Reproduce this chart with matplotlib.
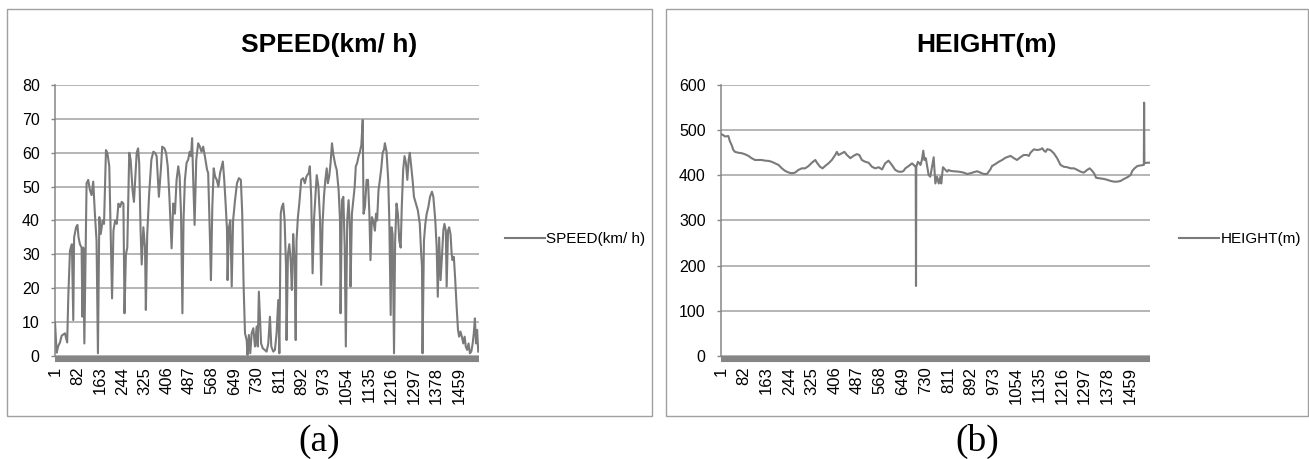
import matplotlib
matplotlib.use('Agg')
import matplotlib.pyplot as plt
from matplotlib.patches import Rectangle

plt.rcParams['font.family'] = 'Liberation Sans'

# sample numbers on the category axis
N_POINTS = 1530
tick_pos = list(range(1, 1460, 81))

# speed record (sample number, km/h)
speed_idx = [
    1, 7, 13, 19, 25, 37, 45, 49, 55, 58,
    62, 67, 70, 77, 82, 86, 91, 97, 100, 103,
    107, 110, 115, 121, 127, 133, 139, 145, 151, 156,
    161, 166, 173, 178, 185, 190, 197, 202, 207, 212,
    218, 224, 230, 236, 242, 248, 252, 257, 262, 269,
    274, 281, 286, 291, 296, 301, 305, 310, 314, 320,
    326, 329, 334, 341, 349, 356,
    362, 368, 376, 384, 388, 396, 402, 408, 414, 422,
    428, 434, 440, 446, 451, 456, 461, 465, 470, 476,
    482, 487, 492, 496, 500, 505, 511, 518, 524, 530,
    536, 542, 550, 554, 560, 564, 569, 574, 579, 585,
    591, 597, 603, 607, 612, 617, 622, 624, 629, 634,
    639, 644, 651, 658, 665, 672, 677, 682, 687, 693,
    696, 701, 706, 711, 717, 723, 729, 733, 737,
    745, 751, 758, 765, 771, 777, 782, 789, 795, 801,
    807, 811, 816, 820, 825, 830, 835, 837, 842, 847,
    852, 856, 861, 866, 870, 873, 878, 883, 890, 897,
    903, 909, 917, 921, 926, 931, 936, 941, 946, 952,
    958, 962, 967, 972, 977, 982, 986, 991, 996, 1001,
    1006, 1013, 1018, 1025, 1030, 1032, 1037, 1042, 1047, 1051,
    1056, 1061, 1066, 1068, 1073, 1078, 1083, 1087, 1092, 1097,
    1102, 1107, 1112, 1115, 1120, 1126, 1131, 1136, 1140, 1145,
    1150, 1156,
    1160, 1164, 1169, 1174, 1179, 1184, 1189, 1192, 1198, 1204,
    1208, 1213, 1216, 1220, 1225, 1229, 1234, 1239, 1244, 1249,
    1253, 1258, 1263, 1268, 1273, 1278, 1282, 1287, 1292, 1297,
    1304, 1311, 1318, 1323, 1326, 1328, 1333, 1338, 1343, 1349,
    1355, 1362, 1367, 1374, 1379, 1383, 1388, 1393, 1398, 1403,
    1407, 1412, 1415, 1420, 1424, 1429, 1433, 1436, 1441, 1446,
    1451, 1456, 1460, 1465, 1470, 1475, 1480, 1484, 1489, 1494,
    1499, 1504, 1509, 1513, 1517, 1521, 1525, 1529,
]
speed_val = [
    10, 1, 3, 4, 6, 6.7, 4, 17.5, 31, 32,
    33, 10.6, 35, 38, 38.7, 35, 33, 32, 11.6, 32,
    3.7, 22, 51, 52, 49, 47.5, 51.5, 42, 34, 0.8,
    41, 36, 40, 39, 60.8, 60, 56, 37, 17, 37,
    40, 39, 45, 44, 45.5, 45, 12.6, 30, 32, 60,
    58, 49, 45.5, 53, 60, 61.3, 57, 37, 27, 38,
    32, 13.6, 36, 48, 58, 60.3,
    60, 59, 47, 56, 61.8, 61.3, 60, 56, 47, 31.8,
    45, 42, 52, 56, 53, 42, 12.6, 40, 52, 57,
    58, 60.3, 59, 64.3, 52, 38.7, 58, 62.8, 61.8, 60.3,
    61.8, 59, 55, 54, 36, 22.4, 44, 55.4, 53, 52,
    50, 54, 56, 57.4, 52, 45, 37.2, 22.4, 38, 40,
    20.5, 40, 46, 51, 52.5, 52, 42, 20.5, 6.7, 4.7,
    0.3, 6.2, 0.8, 6.7, 8.2, 2.8, 8.7, 2.8, 19,
    3.7, 2.3, 1.8, 1.3, 3.7, 11.6, 2.8, 1.3, 1.8, 6.7,
    16.5, 0.8, 42, 44, 45, 40, 26.4, 4.7, 30, 33,
    28, 19.5, 36, 28, 4.7, 34, 41, 45, 52, 52.5,
    51, 53, 54, 56, 47, 24.4, 40, 47, 53.4, 50,
    40, 21, 39, 47, 52, 55.4, 51, 53, 57, 62.8,
    59.4, 56.4, 55, 49, 40, 12.6, 46, 47, 32, 2.8,
    40, 46, 37, 20.5, 42, 46, 50, 56, 57, 59,
    60.3, 62.3, 69.7, 42, 44, 52, 52, 42, 28.3, 41,
    40, 37,
    42, 40, 49, 52, 55.4, 60, 61, 62.8, 60.3, 52,
    40, 12.1, 38, 36, 0.8, 34, 45, 42, 34, 32,
    44, 55, 59, 57, 52, 58, 60, 56, 52, 47,
    45, 43, 39, 30.3, 26.4, 0.8, 34, 39, 42, 44,
    47, 48.5, 47, 40, 32, 17.5, 35, 22.4, 29.3, 37,
    39, 37, 20.5, 37, 38, 36, 30.3, 28.3, 29.3, 22.4,
    14.6, 7.7, 5.7, 7.2, 5.7, 3.7, 5.7, 2.8, 1.8, 3.7,
    0.8, 1.3, 3.7, 6.7, 11.1, 3.7, 7.7, 1.3,
]

# height record (sample number, m)
height_idx = [
    1, 9, 15, 27, 33, 39, 45, 51, 63, 75,
    87, 99, 110, 122, 146, 158, 170, 182, 194, 206,
    218, 229, 241, 253, 265, 277, 289, 301, 313, 325,
    337, 343, 354, 363, 372, 384, 396, 408, 414, 420,
    432, 441, 450, 462, 473, 485, 494, 503, 515, 527,
    539, 551, 563, 575, 586, 598, 610, 622, 634, 646,
    652, 658, 670, 682, 688, 695, 696, 697, 703, 708,
    712, 717, 722, 726, 731, 736, 741, 747, 759, 765,
    771, 777, 783, 786, 792, 801, 807, 812, 818, 830,
    842, 854, 866, 878, 890, 902, 914, 926, 937, 949,
    955, 961, 967, 979, 991, 1003, 1015, 1033, 1045, 1056,
    1068, 1080, 1092, 1098, 1104, 1116, 1128, 1140, 1146, 1152,
    1158, 1164, 1175, 1187, 1199, 1211, 1223, 1235, 1247, 1259,
    1271, 1283, 1294, 1306, 1315, 1324, 1332, 1338, 1354, 1366,
    1378, 1390, 1402, 1413, 1425, 1437, 1449, 1461, 1467, 1475,
    1485, 1497, 1508, 1509, 1510, 1521, 1530,
]
height_val = [
    491.5, 489, 486, 487, 475, 467, 456, 452, 450, 449,
    446.5, 443, 438, 434, 434, 432.5, 432, 430, 426.5, 423,
    415.5, 410, 406.5, 404.5, 406, 412, 415.5, 415.5, 420.6, 428,
    434, 428, 419, 415.5, 420.6, 426.5, 434, 445, 452, 445,
    449, 452, 445, 438, 443, 447, 445, 434, 430, 428,
    419, 415.5, 418, 413, 426.5, 432.5, 423, 412, 408, 408,
    410, 415.5, 420.6, 426.5, 423, 418, 155, 419, 430, 426.5,
    423, 434, 454.6, 434, 438, 419, 400.7, 397, 440, 382,
    397, 382, 397, 382, 418, 412, 408, 412, 410, 409,
    408.5, 407.5, 406, 403, 404.5, 407, 409, 406, 403, 403,
    408, 413, 420.6, 425, 430, 434, 439, 443, 438, 434,
    440, 445, 445, 443, 450, 457.5, 456, 457.5, 460, 454.6,
    452, 458, 456, 449, 438, 423, 419, 418, 415.5, 415.5,
    412, 408, 406, 412, 415.5, 410, 403, 394.5, 393, 392,
    390, 387.5, 386, 386, 387.5, 392, 395.6, 400.7, 410, 415.5,
    420.6, 422, 423, 561, 427, 428, 428,
]

W, H = 1309, 459
fig = plt.figure(figsize=(W / 100, H / 100), dpi=100)


def px_box(x0, y0, x1, y1):
    # pixel box (top-left origin) -> figure fraction rect
    return [x0 / W, (H - y1) / H, (x1 - x0) / W, (y1 - y0) / H]


def draw_panel(ax_px, frame_px, x, y, ymax, ystep, title, letter, leg_x):
    fx, fy, fw, fh = px_box(*frame_px)
    fig.patches.append(Rectangle((fx, fy), fw, fh, transform=fig.transFigure,
                                 fill=False, edgecolor='#a0a0a0', linewidth=1.0))

    ax = fig.add_axes(px_box(*ax_px))
    ax.plot(x, y, color='#7a7a7a', linewidth=1.5, label=title, zorder=3)

    ax.set_xlim(1, N_POINTS)
    ax.set_ylim(0, ymax)
    ax.set_yticks(range(0, ymax + 1, ystep))
    ax.set_xticks(tick_pos)
    ax.set_xticklabels([str(t) for t in tick_pos])

    ax.yaxis.grid(True, color='#b0b0b0', linewidth=1.3)
    ax.set_axisbelow(True)

    for side in ['top', 'right']:
        ax.spines[side].set_visible(False)
    ax.spines['left'].set_color('#868686')
    ax.spines['left'].set_linewidth(1.1)
    ax.spines['bottom'].set_color('#858585')
    ax.spines['bottom'].set_linewidth(4.4)
    ax.spines['bottom'].set_position(('outward', 2.2))
    ax.spines['bottom'].set_capstyle('butt')

    ax.tick_params(axis='y', direction='out', length=3, width=1, color='#868686',
                   labelsize=11.5, pad=8)
    ax.tick_params(axis='x', length=0, labelsize=12, pad=5.5, labelrotation=90)

    cx = fx + fw / 2
    fig.text(cx, (H - 52) / H, title, ha='center', va='baseline',
             fontsize=19, fontweight='bold')
    fig.text(cx - 10 / W, (H - 451) / H, letter, ha='center', va='baseline',
             fontsize=27, family='Liberation Serif')

    ax.legend(loc='center left', bbox_to_anchor=(leg_x / W, (H - 239) / H),
              bbox_transform=fig.transFigure, frameon=False, fontsize=11,
              borderpad=0, borderaxespad=0, handlelength=2.6, handletextpad=0.1)
    return ax


draw_panel((55, 85, 478.5, 356), (7, 9, 652, 416), speed_idx, speed_val,
           80, 10, 'SPEED(km/ h)', '(a)', 505)
draw_panel((721, 85, 1150, 356), (666, 9, 1308, 416), height_idx, height_val,
           600, 100, 'HEIGHT(m)', '(b)', 1179)

plt.savefig('out.png', dpi=100)
